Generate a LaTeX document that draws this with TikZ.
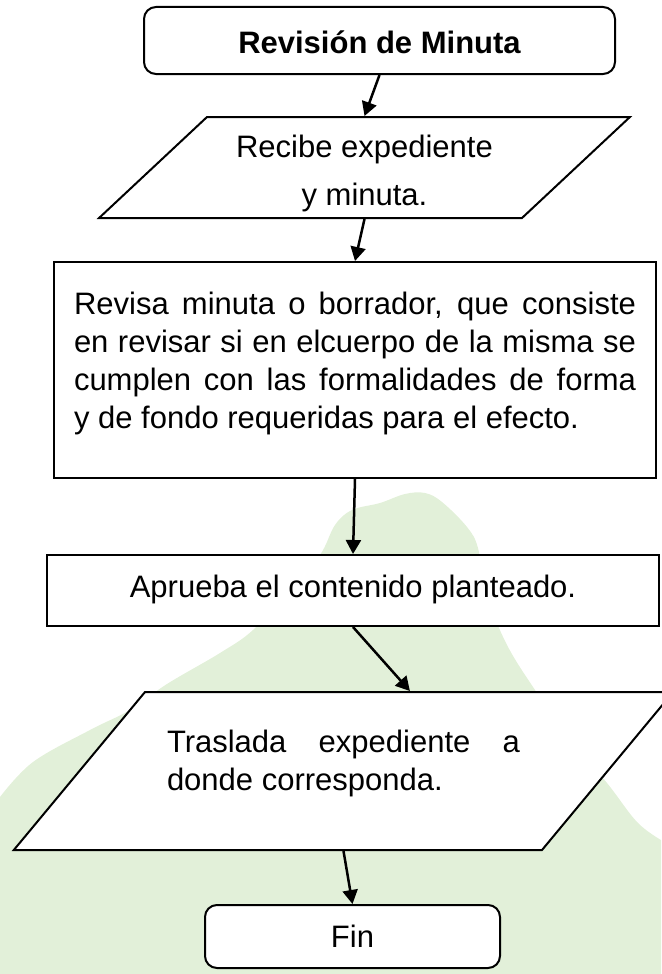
\documentclass[tikz,border=0pt]{standalone}
\usepackage{fontspec}
\setmainfont{Liberation Sans}
\usetikzlibrary{arrows.meta,shapes.geometric}
\definecolor{fondo}{HTML}{E2F0D9}

\begin{document}
\begin{tikzpicture}[
    x=1pt, y=-1pt,
    base/.style={draw, line width=2pt, fill=white, inner sep=0pt, font=\fontsize{31}{38}\selectfont},
    term/.style={base, rectangle, rounded corners=12pt, align=center},
    proc/.style={base, rectangle},
    io/.style={base, trapezium, align=flush center},
    arr/.style={-{Triangle[length=14pt, width=15pt]}, line width=2.5pt}
  ]
    \useasboundingbox (0,0) rectangle (661,974);
    % mancha verde del fondo
    \fill[fondo] (0,974) -- (0,797) -- plot[smooth, tension=0.6] coordinates {
      (0,797) (33,762) (90,730) (130,710) (167,684) (220,653) (253,630)
      (290,590) (320,555) (335,525) (352,510) (380,503) (405,494) (425,493)
      (442,502) (467,527) (478,548) (485,590) (506,643) (535,690) (570,740)
      (607,783) (637,822) (661,840)} -- (661,974) -- cycle;

    \node[term, minimum width=471pt, text height=46pt, text depth=21pt,
      font=\fontsize{31}{38}\selectfont\bfseries] (titulo) at (379.5,40.5) {Revisión de Minuta};
    \node[io, text width=315pt, text height=40pt, text depth=61pt,
      trapezium left angle=43.1, trapezium right angle=136.9] (recibe) at (364.5,167.5)
      {Recibe expediente\\[10pt]y minuta.};
    \node[proc, minimum width=602pt, text width=562pt, text height=52pt, text depth=164pt,
      align=justify, font=\fontsize{31}{38.3}\selectfont] (revisa) at (355,370)
      {Revisa minuta o borrador, que consiste\linebreak en revisar si en elcuerpo de la misma se\linebreak cumplen con las formalidades de forma\linebreak y de fondo requeridas para el efecto.};
    \node[proc, minimum width=612pt, text height=42pt, text depth=29pt] (aprueba) at (353,590.5)
      {Aprueba el contenido planteado.};
    \node[io, text width=353pt, inner xsep=22pt, text height=60pt, text depth=98pt, align=flush left,
      trapezium left angle=50.3, trapezium right angle=129.7] (traslada) at (343.5,771)
      {Traslada\hfill expediente\hfill a\\donde corresponda.};
    \node[term, minimum width=295pt, text height=42pt, text depth=21pt] (fin) at (352.5,936.5) {Fin};

    \foreach \i/\j in {titulo.south/recibe.north, recibe.south/revisa.north,
      revisa.south/aprueba.north, aprueba.south/traslada.top side, traslada.south/fin.north}
      \draw[arr] (\i) -- (\j);
  \end{tikzpicture}
\end{document}
